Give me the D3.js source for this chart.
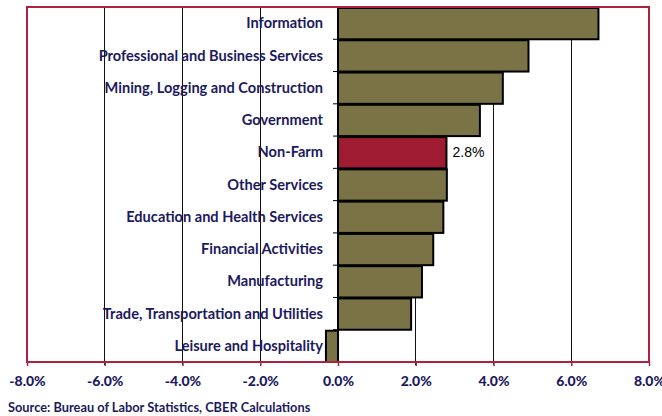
<!DOCTYPE html>
<html><head><meta charset="utf-8">
<script src="https://cdn.jsdelivr.net/npm/d3@7"></script>
<style>body{margin:0;background:#fff}svg{display:block}</style>
</head><body>
<svg id="c" width="662" height="416"></svg>
<script>
const categories = ["Information","Professional and Business Services","Mining, Logging and Construction","Government","Non-Farm","Other Services","Education and Health Services","Financial Activities","Manufacturing","Trade, Transportation and Utilities","Leisure and Hospitality"];
const values = [6.7, 4.9, 4.24, 3.65, 2.79, 2.8, 2.71, 2.45, 2.16, 1.88, -0.31];
const highlight = "Non-Farm";
const xTicks = [-8,-6,-4,-2,0,2,4,6,8];
const sourceText = "Source: Bureau of Labor Statistics, CBER Calculations";

const svg = d3.select("#c");
const L = 27, R = 649, T = 7, B = 362;
const x = d3.scaleLinear().domain([-8,8]).range([L,R]);
const y = d3.scaleBand().domain(categories).range([T,B]).paddingInner(0.0).paddingOuter(0);
const navy = "#1c1a5e";
const lab = "Lato, 'Open Sans', sans-serif";
const pct = d => (d<0?"-":"") + Math.abs(d).toFixed(1) + "%";

// gridlines
svg.append("g").selectAll("line").data(xTicks.filter(d=>d!==0 && d!==-8 && d!==8)).join("line")
  .attr("x1",d=>x(d)).attr("x2",d=>x(d)).attr("y1",T).attr("y2",B+3)
  .attr("stroke","#111").attr("stroke-width",1).attr("shape-rendering","crispEdges");

// bars
svg.append("g").selectAll("rect").data(categories).join("rect")
  .attr("x",(d,i)=>x(Math.min(0,values[i])))
  .attr("y",d=>y(d)+1)
  .attr("width",(d,i)=>Math.abs(x(values[i])-x(0)))
  .attr("height",y.bandwidth()-1)
  .attr("fill",d=>d===highlight?"#9e1b32":"#7a7346")
  .attr("stroke","#000").attr("stroke-width",2);

// zero axis with ticks
svg.append("line").attr("x1",x(0)).attr("x2",x(0)).attr("y1",T).attr("y2",B).attr("stroke","#000").attr("stroke-width",1);
const bounds = categories.map(c=>y(c)).concat([B]);
svg.append("g").selectAll("line").data(bounds.slice(1,-1)).join("line")
  .attr("x1",x(0)-5).attr("x2",x(0)).attr("y1",d=>d).attr("y2",d=>d)
  .attr("stroke","#000").attr("stroke-width",1);

// category labels
svg.append("g").selectAll("text").data(categories).join("text")
  .attr("x",x(0)-15).attr("y",d=>y(d)+y.bandwidth()/2)
  .attr("dy","0.35em").attr("text-anchor","end")
  .attr("font-family",lab).attr("font-weight","bold").attr("font-size",14.6)
  .attr("fill",navy).text(d=>d);

// value label
const hi = categories.indexOf(highlight);
svg.append("text").attr("x",x(values[hi])+6).attr("y",y(highlight)+y.bandwidth()/2)
  .attr("dy","0.35em").attr("font-family","Liberation Sans, Arial, sans-serif").attr("font-size",14)
  .attr("fill","#000").text(pct(values[hi]));

// border
svg.append("rect").attr("x",L).attr("y",T).attr("width",R-L).attr("height",B-T)
  .attr("fill","none").attr("stroke","#b0203f").attr("stroke-width",2);

// x axis
const xAxis = d3.axisBottom(x).tickValues(xTicks).tickSize(4).tickFormat(pct);
const gx = svg.append("g").attr("transform",`translate(0,${B})`).call(xAxis);
gx.select(".domain").remove();
gx.selectAll(".tick line").attr("stroke","#b0203f").attr("stroke-width",1.5);
gx.selectAll(".tick text").attr("font-family",lab).attr("font-weight","900").attr("font-size",14)
  .attr("fill",navy).attr("dy","0").attr("y",24);

// source
svg.append("text").attr("x",8).attr("y",412).attr("font-family",lab).attr("font-weight","bold")
  .attr("font-size",12.8).attr("fill",navy).text(sourceText);
</script>
</body></html>
